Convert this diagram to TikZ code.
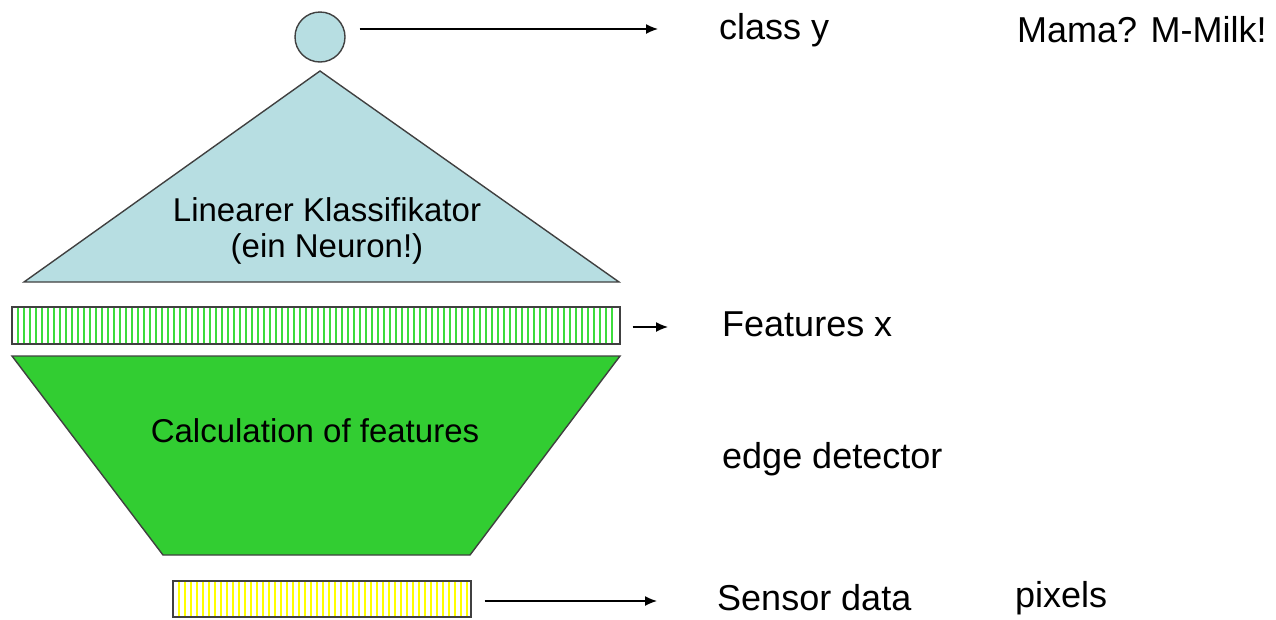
\documentclass[tikz,border=0pt]{standalone}
\usepackage{fontspec}
\setmainfont{Liberation Sans}
\usetikzlibrary{arrows.meta}
\definecolor{lblue}{RGB}{183,222,226}
\definecolor{lgreen}{RGB}{50,205,50}
\definecolor{sgreen}{RGB}{60,220,60}
\definecolor{syellow}{RGB}{255,255,0}
\definecolor{edge}{RGB}{64,64,64}
\tikzset{
  outline/.style={draw=edge, line width=1.4pt},
  arr/.style={-{Latex[length=12pt,width=10pt]}, line width=1.4pt, draw=black},
  lbl/.style={anchor=west, inner sep=0pt, font=\fontsize{36}{40}\selectfont},
  inlbl/.style={align=center, inner sep=0pt, font=\fontsize{33}{36}\selectfont},
}
\begin{document}
\begin{tikzpicture}[x=1pt,y=-1pt]
\useasboundingbox (0,0) rectangle (1276,619);
% circle
\node[outline, circle, fill=lblue, minimum size=50pt, inner sep=0pt] (out) at (320,37) {};
% triangle
\coordinate (tA) at (320,71);
\coordinate (tB) at (619,282);
\coordinate (tC) at (24,282);
\path[outline, fill=lblue] (tA) -- (tB) -- (tC) -- cycle;
\node[inlbl] (lin) at (327,231) {Linearer Klassifikator\\(ein Neuron!)};
% features bar
\path[fill=white] (12,307) rectangle (620,344);
\foreach \i in {0,...,99} {
  \fill[sgreen] ({17+6*\i},307) rectangle ({19+6*\i},344);
}
\node[outline, rectangle, minimum width=608pt, minimum height=37pt, inner sep=0pt] (feat) at (316,325.5) {};
% trapezoid
\coordinate (pA) at (12,356);
\coordinate (pB) at (620,356);
\coordinate (pC) at (470,555);
\coordinate (pD) at (163,555);
\path[outline, fill=lgreen] (pA) -- (pB) -- (pC) -- (pD) -- cycle;
\node[inlbl] (calc) at (315,431) {Calculation of features};
% sensor bar
\path[fill=white] (173,581) rectangle (471,617);
\foreach \i in {0,...,48} {
  \fill[syellow] ({178+6*\i},581) rectangle ({180+6*\i},617);
}
\node[outline, rectangle, minimum width=298pt, minimum height=36pt, inner sep=0pt] (sens) at (322,599) {};
% labels
\node[lbl] (cy) at (719,30) {class y};
\node[lbl] (mm) at (1017,30) {Mama? M-Milk!};
\node[lbl] (fx) at (722,324) {Features x};
\node[lbl] (ed) at (722,459) {edge detector};
\node[lbl] (sd) at (717,598) {Sensor data};
\node[lbl] (px) at (1015,598) {pixels};
% arrows
\coordinate (a1) at (658,29);
\coordinate (a2) at (668,327);
\coordinate (a3) at (657,601);
\draw[arr] ([xshift=14pt]out.east |- a1) -- (a1);
\draw[arr] ([xshift=12pt]feat.east |- a2) -- (a2);
\draw[arr] ([xshift=13pt]sens.east |- a3) -- (a3);
\end{tikzpicture}
\end{document}
